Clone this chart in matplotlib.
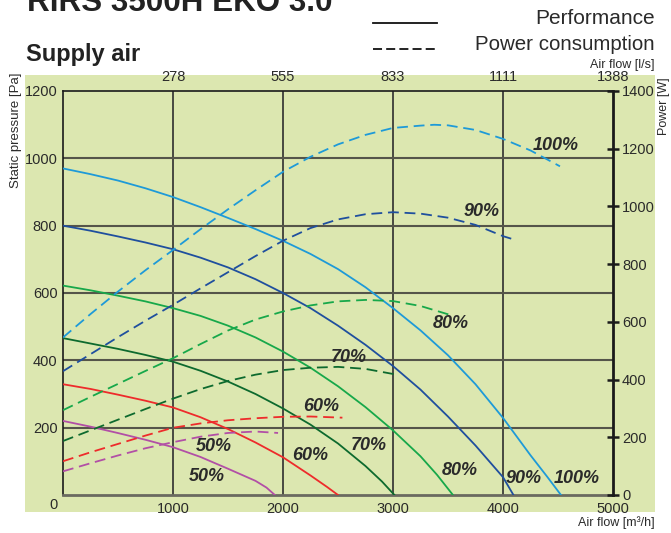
import matplotlib
matplotlib.use("Agg")
import matplotlib.pyplot as plt
from matplotlib.patches import Rectangle
from matplotlib.lines import Line2D

plt.rcParams["font.family"] = ["Liberation Sans", "DejaVu Sans"]

# ---------------- data ----------------
# Fan performance: static pressure [Pa] versus air flow [m3/h]
perf_flow_100 = [0, 250, 500, 750, 1000, 1250, 1500, 1750, 2000, 2250, 2500, 2750,
                 3000, 3250, 3500, 3750, 4000, 4250, 4400, 4527]
perf_pa_100 = [970, 953, 934, 911, 885, 855, 823, 790, 755, 716, 671, 617,
               555, 489, 415, 329, 229, 118, 55, 0]
perf_flow_90 = [0, 250, 500, 750, 1000, 1250, 1500, 1750, 2000, 2250, 2500, 2750,
                3000, 3250, 3500, 3750, 4000, 4095]
perf_pa_90 = [800, 785, 768, 750, 730, 705, 676, 641, 600, 555, 503, 446,
              383, 313, 233, 147, 53, 0]
perf_flow_80 = [0, 250, 500, 750, 1000, 1250, 1500, 1750, 2000, 2250, 2500, 2750,
                3000, 3250, 3400, 3545]
perf_pa_80 = [622, 608, 592, 575, 555, 532, 503, 468, 426, 378, 323, 261,
              192, 115, 60, 0]
perf_flow_70 = [0, 250, 500, 750, 1000, 1250, 1500, 1750, 2000, 2250, 2500, 2750,
                2900, 3013]
perf_pa_70 = [466, 450, 434, 416, 396, 369, 337, 300, 257, 209, 153, 86,
              40, 0]
perf_flow_60 = [0, 250, 500, 750, 1000, 1250, 1500, 1750, 2000, 2250, 2400, 2500]
perf_pa_60 = [329, 315, 298, 280, 260, 231, 196, 156, 112, 58, 24, 0]
perf_flow_50 = [0, 250, 500, 750, 1000, 1250, 1500, 1750, 1850, 1926]
perf_pa_50 = [220, 203, 184, 164, 142, 113, 78, 42, 22, 0]

# Power consumption [W] versus air flow [m3/h]
power_flow_100 = [0, 250, 500, 750, 1000, 1250, 1500, 1750, 2000, 2250, 2500, 2750,
                  3000, 3250, 3375, 3500, 3750, 4000, 4250, 4518]
power_w_100 = [546, 627, 705, 779, 849, 921, 990, 1056, 1120, 1172, 1215, 1248,
               1272, 1280, 1283, 1281, 1265, 1234, 1194, 1139]
power_flow_90 = [0, 250, 500, 750, 1000, 1250, 1500, 1750, 2000, 2250, 2500, 2750,
                 3000, 3250, 3500, 3750, 4000, 4111]
power_w_90 = [429, 488, 547, 604, 659, 716, 772, 828, 881, 925, 955, 973,
              980, 975, 961, 936, 897, 884]
power_flow_80 = [0, 250, 500, 750, 1000, 1250, 1500, 1750, 2000, 2250, 2500, 2750,
                 3000, 3250, 3520]
power_w_80 = [294, 340, 385, 430, 474, 523, 570, 608, 636, 657, 671, 676,
              672, 655, 624]
power_flow_70 = [0, 250, 500, 750, 1000, 1250, 1500, 1750, 2000, 2250, 2500, 2750,
                 3020]
power_w_70 = [187, 224, 261, 298, 334, 367, 395, 417, 433, 441, 444, 437, 418]
power_flow_60 = [0, 250, 500, 750, 1000, 1250, 1500, 1750, 2000, 2250, 2540]
power_w_60 = [117, 148, 177, 206, 233, 248, 259, 266, 271, 272, 268]
power_flow_50 = [0, 250, 500, 750, 1000, 1250, 1500, 1750, 1955]
power_w_50 = [82, 110, 137, 162, 183, 202, 215, 220, 215]

# Speed labels: text, air flow, pressure position
label_text = ["100%", "90%", "80%", "70%", "60%", "50%",
              "100%", "90%", "80%", "70%", "60%", "50%"]
label_flow = [4476, 3805, 3525, 2602, 2346, 1371,
              4666, 4184, 3606, 2776, 2243, 1310]
label_pa = [1037, 841, 508, 407, 262, 144,
            49, 49, 74, 148, 117, 55]

flow_ticks = [0, 1000, 2000, 3000, 4000, 5000]
flow_tick_labels = ["", "1000", "2000", "3000", "4000", "5000"]
lps_ticks = [1000 / 3.6, 2000 / 3.6, 3000 / 3.6, 4000 / 3.6, 5000 / 3.6]
lps_tick_labels = ["278", "555", "833", "1111", "1388"]
pa_ticks = [0, 200, 400, 600, 800, 1000, 1200]
pa_tick_labels = ["", "200", "400", "600", "800", "1000", "1200"]
power_ticks = [0, 200, 400, 600, 800, 1000, 1200, 1400]
power_tick_labels = ["0", "200", "400", "600", "800", "1000", "1200", "1400"]

# ---------------- styling ----------------
COL_100 = "#1e9ad8"
COL_90 = "#1f4f9e"
COL_80 = "#17a84a"
COL_70 = "#0d6a2e"
COL_60 = "#ee2b2b"
COL_50 = "#b24fa6"
BG = "#dce7b0"
TXT = "#2a2a2a"

W, H = 671, 533
fig = plt.figure(figsize=(W / 100, H / 100), dpi=100)
fig.patch.set_facecolor("white")


def fx(px):
    return px / W


def fy(py):
    return 1 - py / H


# green panel behind the chart
fig.add_artist(Rectangle((fx(25), fy(512)), fx(655) - fx(25), fy(75) - fy(512),
                         transform=fig.transFigure, facecolor=BG,
                         edgecolor="none", zorder=-10))

ax = fig.add_axes([fx(63), fy(495), fx(613) - fx(63), fy(91) - fy(495)])
ax.set_facecolor("none")
ax.set_xlim(0, 5000)
ax.set_ylim(0, 1200)

ax.set_xticks(flow_ticks)
ax.set_xticklabels(flow_tick_labels)
ax.set_yticks(pa_ticks)
ax.set_yticklabels(pa_tick_labels)
ax.tick_params(axis="both", length=0, labelsize=10.5, colors=TXT)
ax.tick_params(axis="x", pad=5)
ax.tick_params(axis="y", pad=4)

# grid
for v in flow_ticks[1:-1]:
    ax.axvline(v, color="#2f2f2f", lw=1.2, zorder=1)
for h in pa_ticks[1:-1]:
    ax.axhline(h, color="#55554a", lw=1.5, zorder=1)

for side in ("left", "top"):
    ax.spines[side].set_color("#1a1a1a")
    ax.spines[side].set_linewidth(1.2)
ax.spines["bottom"].set_color("#6a6a60")
ax.spines["bottom"].set_linewidth(2)
ax.spines["right"].set_visible(False)

# top axis in l/s
top = ax.secondary_xaxis("top", functions=(lambda q: q / 3.6, lambda l: l * 3.6))
top.set_xticks(lps_ticks)
top.set_xticklabels(lps_tick_labels)
top.tick_params(length=0, pad=5, labelsize=10.5, colors=TXT)
top.spines["top"].set_visible(False)

# performance curves
perf = [(perf_flow_100, perf_pa_100, COL_100), (perf_flow_90, perf_pa_90, COL_90),
        (perf_flow_80, perf_pa_80, COL_80), (perf_flow_70, perf_pa_70, COL_70),
        (perf_flow_60, perf_pa_60, COL_60), (perf_flow_50, perf_pa_50, COL_50)]
for q, p, c in perf:
    ax.plot(q, p, color=c, lw=1.3, zorder=3, solid_joinstyle="round")

# power axis
ax2 = ax.twinx()
ax2.set_ylim(0, 1400)
ax2.set_yticks(power_ticks)
ax2.set_yticklabels(power_tick_labels)
ax2.tick_params(axis="y", direction="inout", length=9, width=1.8, pad=2,
                labelsize=10.5, colors="#1a1a1a", labelcolor=TXT)
for side in ("left", "top", "bottom"):
    ax2.spines[side].set_visible(False)
ax2.spines["right"].set_color("#1a1a1a")
ax2.spines["right"].set_linewidth(2)

power = [(power_flow_100, power_w_100, COL_100), (power_flow_90, power_w_90, COL_90),
         (power_flow_80, power_w_80, COL_80), (power_flow_70, power_w_70, COL_70),
         (power_flow_60, power_w_60, COL_60), (power_flow_50, power_w_50, COL_50)]
for q, w, c in power:
    ln, = ax2.plot(q, w, color=c, lw=1.3, zorder=3)
    ln.set_dashes((6, 3.2))

for t, q, p in zip(label_text, label_flow, label_pa):
    ax.text(q, p, t, fontsize=13, fontweight="bold", fontstyle="italic",
            ha="center", va="center", color=TXT, zorder=5)

# axis titles
fig.text(fx(54), fy(505), "0", ha="center", va="center", fontsize=10.5, color=TXT)
fig.text(fx(16), fy(72), "Static pressure [Pa]", rotation=90, ha="center",
         va="top", fontsize=9.5, color=TXT)
fig.text(fx(664), fy(135), "Power [W]", rotation=90, ha="center",
         va="bottom", fontsize=9, color=TXT)
fig.text(fx(655), fy(65), "Air flow [l/s]", ha="right", va="center",
         fontsize=9, color=TXT)
fig.text(fx(655), fy(523), "Air flow [m³/h]", ha="right", va="center",
         fontsize=9, color=TXT)

# headings
fig.text(fx(27), fy(11), "RIRS 3500H EKO 3.0", fontsize=22.6, fontweight="bold",
         ha="left", va="baseline", color="#222222")
fig.text(fx(26), fy(61), "Supply air", fontsize=17, fontweight="bold",
         ha="left", va="baseline", color="#222222")

# legend
fig.add_artist(Line2D([fx(373), fx(437)], [fy(22.5), fy(22.5)],
                      transform=fig.transFigure, color="#111111", lw=1.3))
leg_dash = Line2D([fx(373), fx(437)], [fy(49), fy(49)],
                  transform=fig.transFigure, color="#111111", lw=1.3)
leg_dash.set_dashes((5, 2.3))
fig.add_artist(leg_dash)
fig.text(fx(655), fy(24.5), "Performance", ha="right", va="baseline",
         fontsize=15, color=TXT)
fig.text(fx(655), fy(50.5), "Power consumption", ha="right", va="baseline",
         fontsize=14.8, color=TXT)

fig.savefig("out.png", dpi=100, facecolor="white")
